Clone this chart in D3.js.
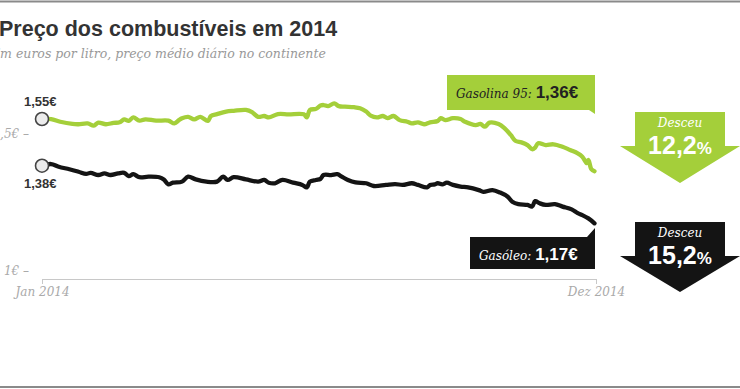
<!DOCTYPE html>
<html>
<head>
<meta charset="utf-8">
<script src="https://cdn.jsdelivr.net/npm/d3@7"></script>
<style>
  body { margin: 0; background: #fff; }
  svg { display: block; }
</style>
</head>
<body>
<svg id="grafico" width="740" height="389"></svg>
<script>
// dia do ano (0 = 1 jan 2014) e preço médio em euros/litro
const gasolinaDias = [0, 6, 12, 20, 24, 30, 34, 37, 42, 47, 51, 54, 57, 60, 64, 68, 75, 83, 87, 90,
  92, 96, 100, 104, 109, 111, 115, 121, 126, 134, 138, 142, 146, 149, 155, 162, 172, 174, 176, 180,
  183, 185, 188, 192, 195, 199, 205, 209, 213, 216, 220, 224, 227, 231, 235, 240, 243, 247, 251, 255,
  260, 262, 265, 270, 275, 278, 285, 288, 291, 294, 300, 304, 308, 311, 315, 319, 322, 324, 326, 331,
  336, 342, 347, 352, 355, 358, 359, 361, 363];
const gasolinaPreco = [1.55, 1.550, 1.540, 1.532, 1.531, 1.534, 1.526, 1.537, 1.531, 1.536, 1.538, 1.549, 1.543, 1.556, 1.544, 1.549, 1.544, 1.544, 1.534, 1.546,
  1.553, 1.558, 1.549, 1.558, 1.543, 1.561, 1.568, 1.577, 1.580, 1.583, 1.575, 1.558, 1.561, 1.556, 1.568, 1.567, 1.567, 1.556, 1.583, 1.587,
  1.599, 1.601, 1.597, 1.607, 1.597, 1.595, 1.593, 1.589, 1.577, 1.562, 1.556, 1.561, 1.553, 1.561, 1.546, 1.540, 1.534, 1.538, 1.531, 1.538,
  1.543, 1.553, 1.546, 1.553, 1.550, 1.540, 1.528, 1.532, 1.522, 1.537, 1.532, 1.516, 1.492, 1.471, 1.465, 1.455, 1.440, 1.446, 1.462, 1.455,
  1.458, 1.449, 1.437, 1.425, 1.413, 1.389, 1.401, 1.367, 1.36];

const gasoleoDias = [0, 6, 11, 18, 24, 29, 32, 37, 41, 45, 50, 54, 57, 60, 64, 70, 77, 80, 83, 86,
  92, 96, 101, 108, 115, 119, 122, 126, 134, 142, 146, 149, 153, 158, 165, 171, 174, 176, 180, 183,
  185, 190, 194, 197, 201, 206, 213, 218, 226, 232, 237, 243, 247, 253, 255, 258, 260, 263, 266, 270,
  275, 280, 287, 290, 296, 301, 306, 309, 313, 319, 322, 324, 327, 331, 337, 342, 348, 352, 355, 359, 363];
const gasoleoPreco = [1.38, 1.386, 1.376, 1.367, 1.358, 1.350, 1.354, 1.346, 1.352, 1.346, 1.352, 1.354, 1.342, 1.349, 1.338, 1.340, 1.338, 1.330, 1.312, 1.318,
  1.322, 1.340, 1.330, 1.322, 1.322, 1.340, 1.328, 1.338, 1.330, 1.322, 1.328, 1.318, 1.316, 1.328, 1.318, 1.310, 1.301, 1.322, 1.328, 1.332,
  1.346, 1.346, 1.349, 1.340, 1.328, 1.319, 1.316, 1.306, 1.310, 1.313, 1.310, 1.316, 1.310, 1.301, 1.310, 1.312, 1.316, 1.312, 1.318, 1.310,
  1.304, 1.301, 1.291, 1.285, 1.291, 1.282, 1.267, 1.249, 1.240, 1.237, 1.231, 1.251, 1.243, 1.237, 1.240, 1.231, 1.221, 1.207, 1.200, 1.188, 1.17];

const ticksY = [1, 1.5];
const rotulosY = ['1€ –', '1,5€ –'];
const rotulosX = ['Jan 2014', 'Dez 2014'];
const precoInicio = ['1,55€', '1,38€'];
const precoFim = ['1,36€', '1,17€'];
const nomes = ['Gasolina 95:', 'Gasóleo:'];
const descidas = ['12,2', '15,2'];

const verde = '#a4cf3a', preto = '#141414';
const sans = '"Liberation Sans", Arial, sans-serif';
const serif = '"DejaVu Serif", Georgia, serif';

let svg = d3.select('#grafico');

let inicio = new Date(2014, 0, 1), fim = new Date(2014, 11, 31);
let dia = d => d3.timeDay.offset(inicio, d);

let x = d3.scaleTime().domain([inicio, fim]).range([42, 596]),
    y = d3.scaleLinear().domain([1, 1.6]).range([270, 105.3]);

// molduras
svg.append('line').attr('x1', 0).attr('x2', 740).attr('y1', 1.5).attr('y2', 1.5)
    .attr('stroke', '#8a8a8a').attr('stroke-width', 2);
svg.append('line').attr('x1', 0).attr('x2', 740).attr('y1', 387).attr('y2', 387)
    .attr('stroke', '#8a8a8a').attr('stroke-width', 2);

// títulos
svg.append('text').attr('x', -1).attr('y', 36)
    .attr('font-family', sans).attr('font-weight', 'bold').attr('font-size', 21.5)
    .attr('fill', '#333').text('Preço dos combustíveis em 2014');
svg.append('text').attr('x', -9).attr('y', 58)
    .attr('font-family', serif).attr('font-style', 'italic').attr('font-size', 12.5)
    .attr('fill', '#999').text('Em euros por litro, preço médio diário no continente');

// eixo y
let eixoY = svg.append('g')
    .attr('transform', 'translate(29,0)')
    .call(d3.axisLeft(y).tickValues(ticksY).tickSize(0).tickPadding(0)
        .tickFormat((d, i) => rotulosY[i]));
eixoY.select('.domain').remove();
eixoY.selectAll('text')
    .attr('font-family', serif).attr('font-style', 'italic').attr('font-size', 12)
    .attr('fill', '#aaa').attr('dy', '0.4em');

// eixo x
let eixoX = svg.append('g')
    .attr('transform', 'translate(0,279)')
    .call(d3.axisBottom(x).tickValues([inicio, fim]).tickSize(5).tickSizeOuter(0)
        .tickFormat((d, i) => rotulosX[i]));
eixoX.select('.domain').attr('stroke', '#c8c8c8');
eixoX.selectAll('line').attr('stroke', '#c8c8c8');
eixoX.selectAll('text')
    .attr('font-family', serif).attr('font-style', 'italic').attr('font-size', 12)
    .attr('fill', '#aaa');

// linhas
let linha = d3.line()
    .x(d => x(d.data))
    .y(d => y(d.preco))
    .curve(d3.curveCatmullRom.alpha(0.5));

let series = [
    {cor: verde, dados: gasolinaDias.map((d, i) => ({data: dia(d), preco: gasolinaPreco[i]}))},
    {cor: preto, dados: gasoleoDias.map((d, i) => ({data: dia(d), preco: gasoleoPreco[i]}))}
];

svg.selectAll('.linha')
    .data(series)
    .enter()
    .append('path')
    .attr('class', 'linha')
    .attr('d', s => linha(s.dados))
    .attr('fill', 'none')
    .attr('stroke', s => s.cor)
    .attr('stroke-width', 4.3)
    .attr('stroke-linejoin', 'round')
    .attr('stroke-linecap', 'round');

// pontos iniciais
svg.selectAll('.inicio')
    .data(series)
    .enter()
    .append('circle')
    .attr('class', 'inicio')
    .attr('cx', s => x(s.dados[0].data))
    .attr('cy', s => y(s.dados[0].preco))
    .attr('r', 6.5)
    .attr('fill', '#ececec')
    .attr('stroke', '#444')
    .attr('stroke-width', 1.6);

svg.selectAll('.rotulo-inicio')
    .data(series)
    .enter()
    .append('text')
    .attr('class', 'rotulo-inicio')
    .attr('x', 24)
    .attr('y', (s, i) => y(s.dados[0].preco) + (i === 0 ? -13 : 22))
    .attr('font-family', sans).attr('font-weight', 'bold').attr('font-size', 13)
    .attr('fill', '#333')
    .text((s, i) => precoInicio[i]);

// caixas com o preço final
function caixa(g, x0, y0, w, h, cor, ponta) {
    let p = d3.path();
    p.moveTo(x0, y0);
    if (ponta === 'cima') {
        p.lineTo(x0 + w - 8, y0); p.lineTo(x0 + w, y0 - 9);
    } else {
        p.lineTo(x0 + w, y0);
    }
    if (ponta === 'baixo') {
        p.lineTo(x0 + w, y0 + h + 4); p.lineTo(x0 + w - 6, y0 + h);
    } else {
        p.lineTo(x0 + w, y0 + h);
    }
    p.lineTo(x0, y0 + h);
    p.closePath();
    g.append('path').attr('d', p.toString()).attr('fill', cor);
}

let xFim = x(fim);
let caixaVerde = svg.append('g');
caixa(caixaVerde, 447, 75, xFim - 1 - 447, 35, verde, 'baixo');
let tVerde = caixaVerde.append('text').attr('x', 456).attr('y', 98);
tVerde.append('tspan').attr('font-family', serif).attr('font-style', 'italic').attr('font-size', 12)
    .attr('fill', '#222').text(nomes[0] + ' ');
tVerde.append('tspan').attr('font-family', sans).attr('font-weight', 'bold').attr('font-size', 17)
    .attr('fill', '#222').text(precoFim[0]);

let caixaPreta = svg.append('g');
caixa(caixaPreta, 470, 237, xFim - 1 - 470, 32, preto, 'cima');
let tPreta = caixaPreta.append('text').attr('x', 479).attr('y', 260);
tPreta.append('tspan').attr('font-family', serif).attr('font-style', 'italic').attr('font-size', 12)
    .attr('fill', '#fff').text(nomes[1] + ' ');
tPreta.append('tspan').attr('font-family', sans).attr('font-weight', 'bold').attr('font-size', 17)
    .attr('fill', '#fff').text(precoFim[1]);

// setas de descida
function seta(topo, ombro, ponta, cor, valor) {
    let cx = 680;
    let pts = [[cx - 45, topo], [cx + 45, topo], [cx + 45, ombro], [cx + 60, ombro],
               [cx, ponta], [cx - 60, ombro], [cx - 45, ombro]];
    svg.append('polygon').attr('points', pts.map(p => p.join(',')).join(' ')).attr('fill', cor);
    svg.append('text').attr('x', cx).attr('y', topo + 15).attr('text-anchor', 'middle')
        .attr('font-family', serif).attr('font-style', 'italic').attr('font-size', 12)
        .attr('fill', '#fff').text('Desceu');
    let t = svg.append('text').attr('x', cx).attr('y', topo + 42).attr('text-anchor', 'middle')
        .attr('font-family', sans).attr('font-weight', 'bold').attr('fill', '#fff');
    t.append('tspan').attr('font-size', 25).text(valor);
    t.append('tspan').attr('font-size', 17).text('%');
}
seta(112, 146, 183, verde, descidas[0]);
seta(222, 256, 292, preto, descidas[1]);
</script>
</body>
</html>
